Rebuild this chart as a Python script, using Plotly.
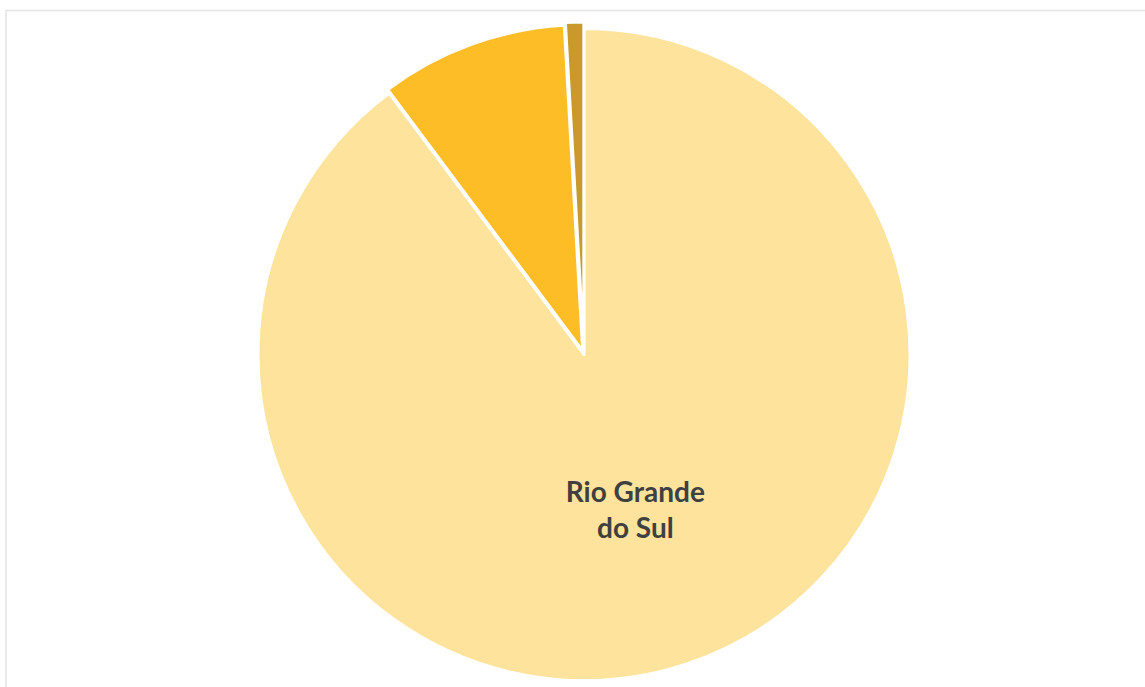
import plotly.graph_objects as go

labels = ["Rio Grande do Sul", "Outro estado A", "Outro estado B"]
values = [89.8, 9.3, 0.9]
text_labels = ["Rio Grande<br>do Sul", "", ""]
colors = ["#FDE39C", "#FDBD27", "#C99A2A"]
pulls = [0, 0.012, 0.02]

W, H = 1145, 687

fig = go.Figure(
    go.Pie(
        labels=labels,
        values=values,
        text=text_labels,
        textinfo="text",
        textposition="inside",
        insidetextorientation="horizontal",
        sort=False,
        direction="clockwise",
        rotation=0,
        pull=pulls,
        marker=dict(colors=colors, line=dict(color="white", width=3)),
        textfont=dict(family="Lato", size=28, color="#404040", weight="bold"),
        hoverinfo="label+percent",
        showlegend=False,
        domain=dict(x=[251.5 / W, 916.5 / W], y=[0, 1 - 22 / H]),
    )
)

fig.update_layout(
    width=W,
    height=H,
    margin=dict(l=0, r=0, t=0, b=0),
    paper_bgcolor="white",
    plot_bgcolor="white",
    shapes=[
        dict(type="line", xref="paper", yref="paper",
             x0=6 / W, x1=1, y0=1 - 10.5 / H, y1=1 - 10.5 / H,
             line=dict(color="#E3E3E3", width=1.5)),
        dict(type="line", xref="paper", yref="paper",
             x0=6 / W, x1=6 / W, y0=0, y1=1 - 10.5 / H,
             line=dict(color="#E3E3E3", width=1.5)),
    ],
)

fig.write_html(
    "out.html",
    config={"displayModeBar": False},
    post_script="document.body.style.margin='0px';document.body.style.overflow='hidden';",
)
